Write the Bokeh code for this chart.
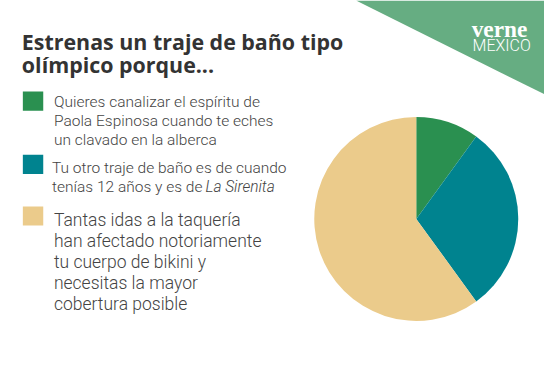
import numpy as np
from bokeh.plotting import figure
from bokeh.models import Range1d, ColumnDataSource
from bokeh.core.properties import value
from bokeh.embed import file_html
from bokeh.resources import INLINE

# ---- data ----
title_lines = ["Estrenas un traje de baño tipo", "olímpico porque..."]
categories = ["Clavado", "La Sirenita", "Taquería"]
shares = [10, 30, 60]
colors = ["#2a9050", "#00838f", "#ebcb8b"]
legend_lines = [
    ["Quieres canalizar el espíritu de", "Paola Espinosa cuando te eches", "un clavado en la alberca"],
    ["Tu otro traje de baño es de cuando", "tenías 12 años y es de "],
    ["Tantas idas a la taquería", "han afectado notoriamente", "tu cuerpo de bikini y",
     "necesitas la mayor", "cobertura posible"],
]
legend_italic = ["", "La Sirenita", ""]
brand = ["verne", "MÉXICO"]

W, H = 544, 364          # pixel size of the figure
RW, RH = 560, 380        # design coordinate space
S = W / RW               # font scale
LIGHT = "Roboto Light, Roboto"

def px(n):
    return value(f"{n * S:.1f}px")

def fy(Y):
    return RH - Y

p = figure(width=W, height=H, output_backend="svg", toolbar_location=None,
           x_range=Range1d(0, RW), y_range=Range1d(0, RH),
           x_axis_type=None, y_axis_type=None, min_border=0)
p.grid.visible = False
p.outline_line_color = None
p.background_fill_color = "white"
p.border_fill_color = "white"

# corner triangle
p.patch([366, 560, 560], [fy(0), fy(0), fy(98)], fill_color="#66ad82", line_color=None)
p.text([485], [fy(30)], text=[brand[0]], text_font=value("Liberation Serif"),
       text_font_style="bold", text_font_size=px(24), text_color="white",
       text_baseline="alphabetic", text_align="left")
p.text([486], [fy(47)], text=[brand[1]], text_font=value(LIGHT),
       text_font_size=px(16.5), text_color="white",
       text_baseline="alphabetic", text_align="left")

# title
p.text([22] * 2, [fy(43), fy(67)], text=title_lines, text_font=value("Open Sans"),
       text_font_style="bold", text_font_size=px(22), text_color="#333333",
       text_baseline="alphabetic", text_align="left")

# legend
sw_top = [95, 161, 215]
base0 = [106, 175, 229]
spacing = [20, 20, 22]
fsize = [16, 16, 18]
text_x = [55, 53, 55]
for i, lines in enumerate(legend_lines):
    p.rect([33.5], [fy(sw_top[i] + 10)], width=21, height=20,
           fill_color=colors[i], line_color=None)
    ys = [fy(base0[i] + k * spacing[i]) for k in range(len(lines))]
    p.text([text_x[i]] * len(lines), ys, text=lines, text_font=value(LIGHT),
           text_font_size=px(fsize[i]), text_color="#444444",
           text_baseline="alphabetic", text_align="left")
    if legend_italic[i]:
        p.text([211], [ys[-1]], text=[legend_italic[i]], text_font=value(LIGHT),
               text_font_style="italic", text_font_size=px(fsize[i]), text_color="#444444",
               text_baseline="alphabetic", text_align="left")

# pie
vals = np.array(shares, dtype=float)
frac = vals / vals.sum()
cum = np.concatenate([[0], np.cumsum(frac)])
start = np.pi / 2 - 2 * np.pi * cum[:-1]
end = np.pi / 2 - 2 * np.pi * cum[1:]
src = ColumnDataSource(dict(cat=categories, start=start, end=end, color=colors))
p.wedge(x=428, y=fy(228), radius=105, start_angle="start", end_angle="end",
        direction="clock", fill_color="color", line_color=None, source=src)

open("out.html", "w").write(file_html(p, INLINE))
